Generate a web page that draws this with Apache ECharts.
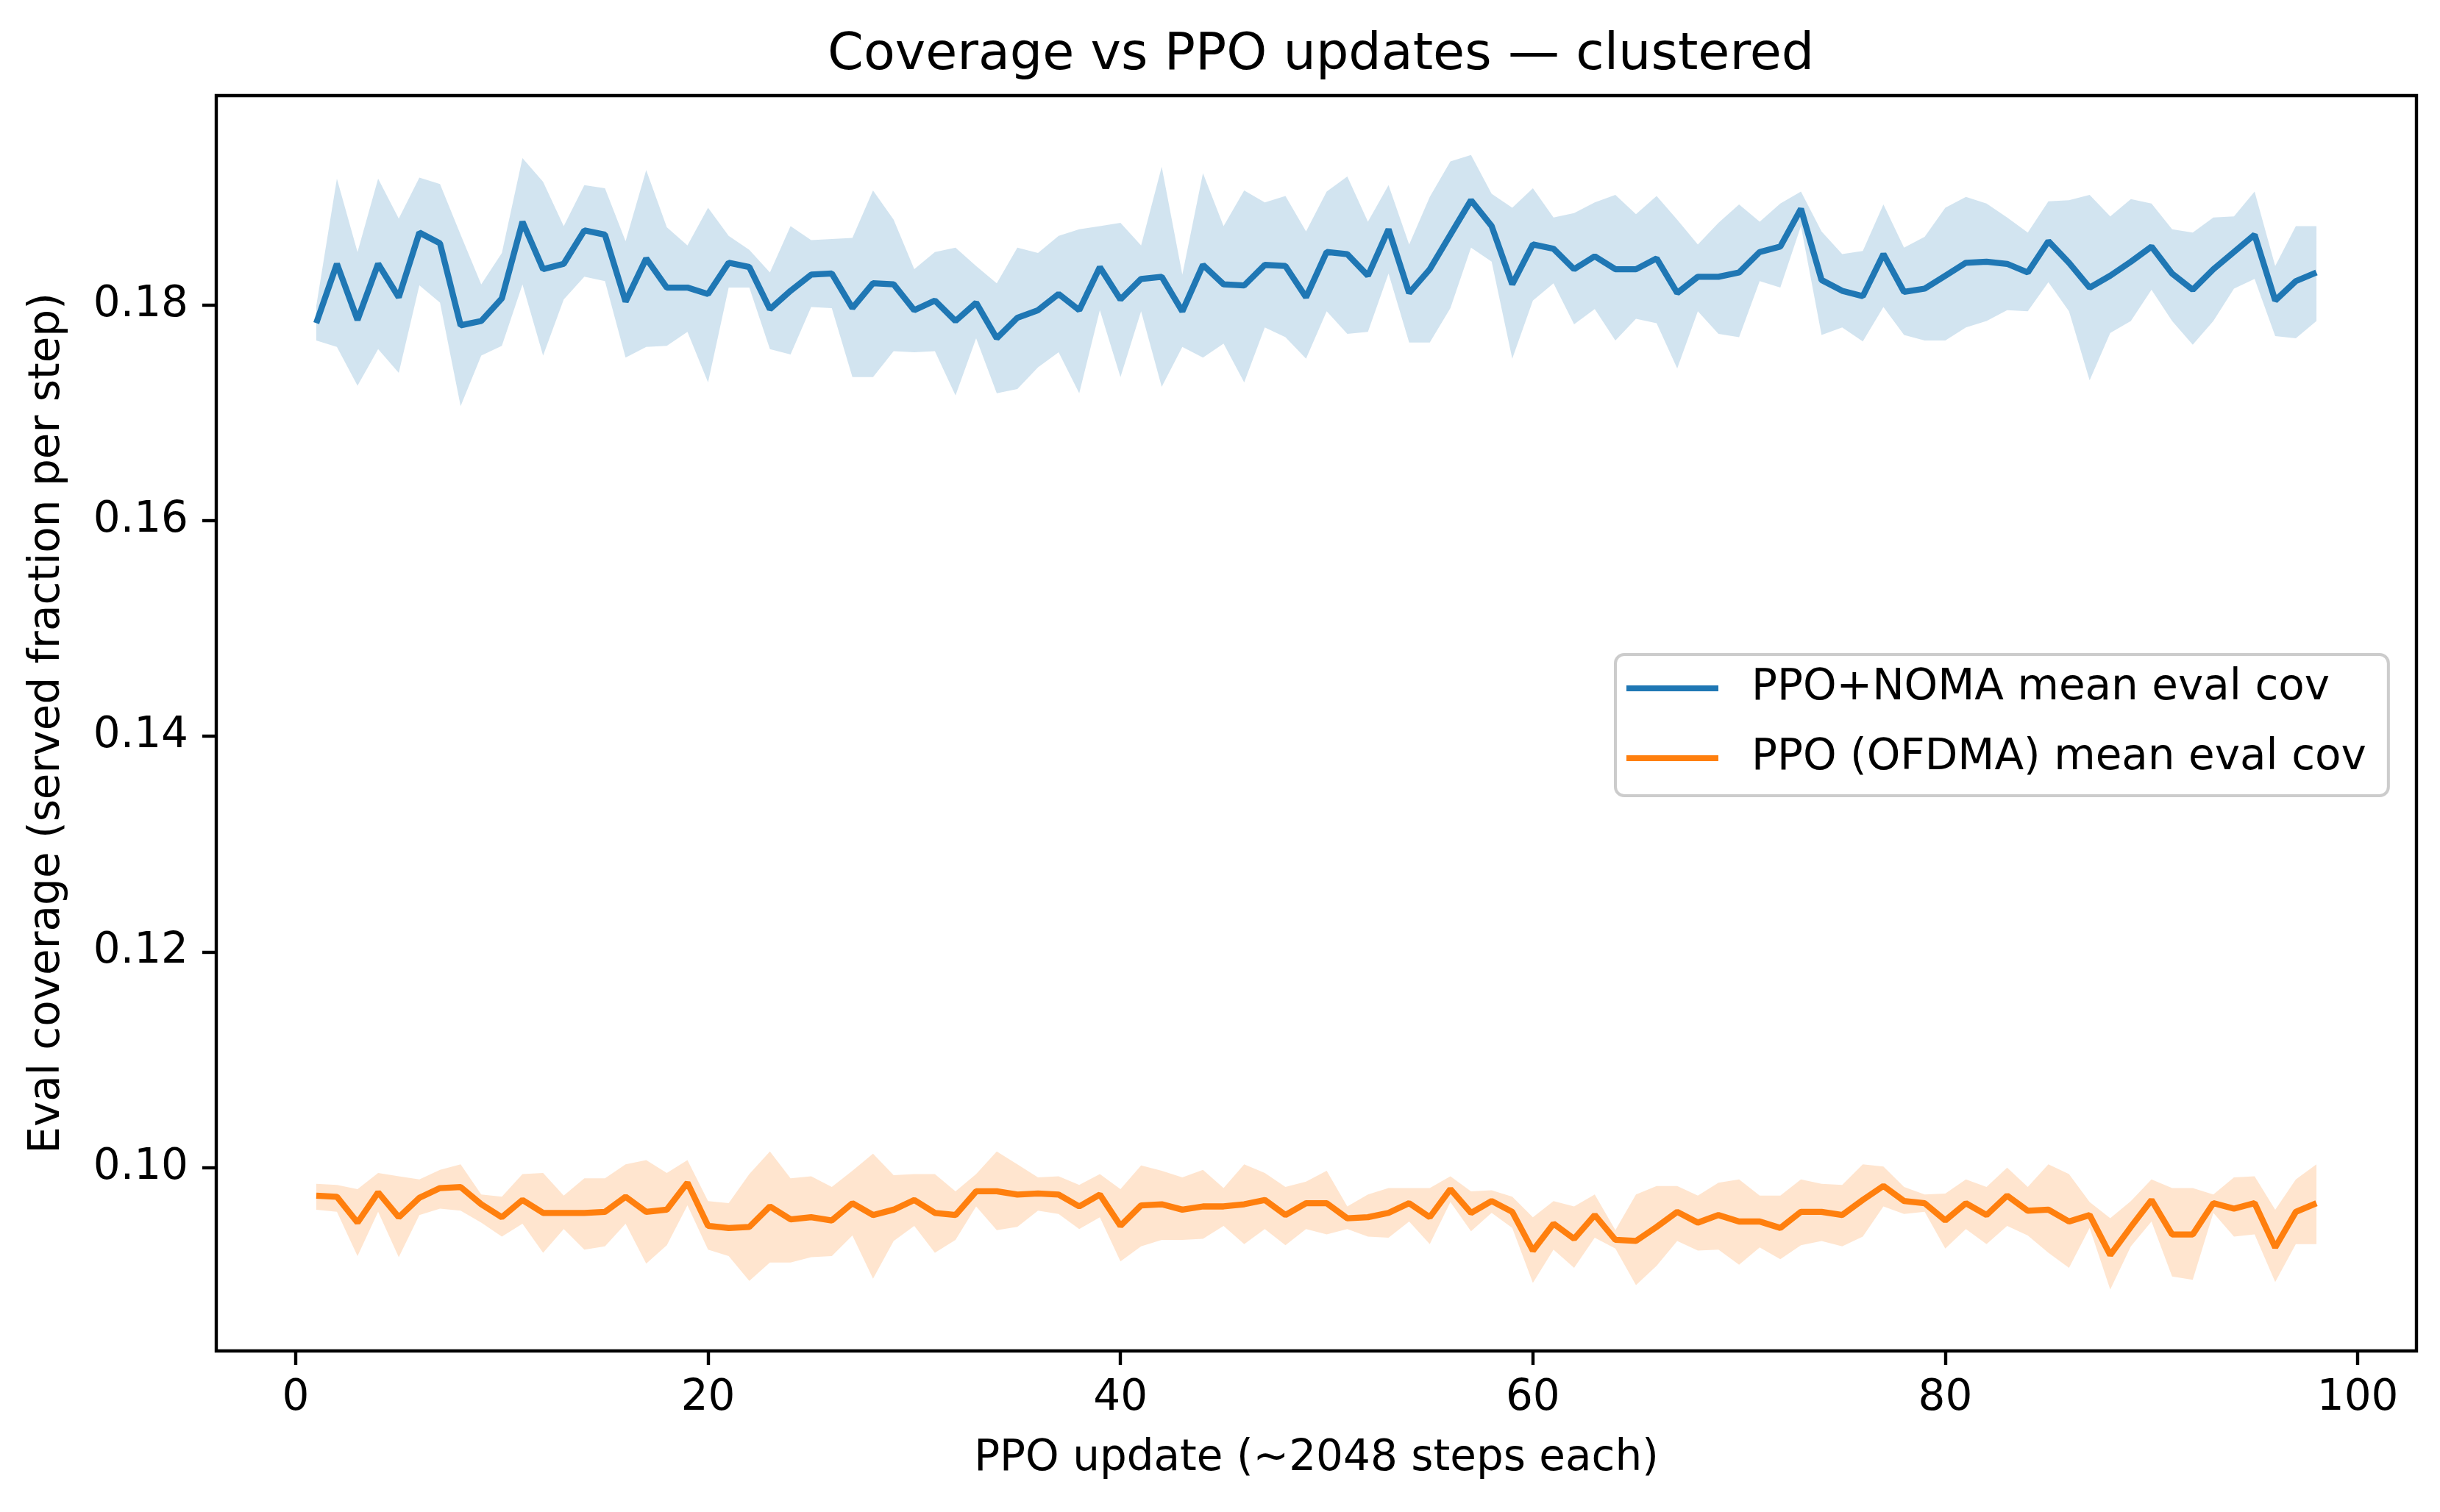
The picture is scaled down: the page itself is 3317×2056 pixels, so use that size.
<!DOCTYPE html>
<html>
<head>
<meta charset="utf-8">
<script src="https://cdn.jsdelivr.net/npm/echarts@6.0.0/dist/echarts.min.js"></script>
<style>
  html, body { margin: 0; padding: 0; background: #ffffff; }
  #chart { width: 3317px; height: 2056px; }
</style>
</head>
<body>
<div id="chart"></div>
<script>
// ---- Data ----
const chartTitle = 'Coverage vs PPO updates — clustered';
const xAxisTitle = 'PPO update (~2048 steps each)';
const yAxisTitle = 'Eval coverage (served fraction per step)';
const nomaName = 'PPO+NOMA mean eval cov';
const ofdmaName = 'PPO (OFDMA) mean eval cov';

const xTicks = [0, 20, 40, 60, 80, 100];
const yTicks = [0.10, 0.12, 0.14, 0.16, 0.18];

const nomaMean = [
  0.1783, 0.1838, 0.1786, 0.1838, 0.1807, 0.1867, 0.1857, 0.1781, 0.1785, 0.1806,
  0.1877, 0.1833, 0.1838, 0.1869, 0.1865, 0.1803, 0.1843, 0.1816, 0.1816, 0.1810,
  0.1839, 0.1835, 0.1796, 0.1813, 0.1828, 0.1829, 0.1797, 0.1820, 0.1819, 0.1795,
  0.1804, 0.1785, 0.1802, 0.1769, 0.1788, 0.1795, 0.1810, 0.1795, 0.1835, 0.1805,
  0.1824, 0.1826, 0.1794, 0.1837, 0.1819, 0.1818, 0.1837, 0.1836, 0.1807, 0.1849,
  0.1847, 0.1827, 0.1870, 0.1811, 0.1833, 0.1865, 0.1897, 0.1873, 0.1819, 0.1856,
  0.1852, 0.1833, 0.1845, 0.1833, 0.1833, 0.1843, 0.1811, 0.1826, 0.1826, 0.1830,
  0.1849, 0.1854, 0.1889, 0.1823, 0.1813, 0.1808, 0.1847, 0.1812, 0.1815, 0.1827,
  0.1839, 0.1840, 0.1838, 0.1830, 0.1859, 0.1839, 0.1816, 0.1827, 0.1840, 0.1854,
  0.1829, 0.1814, 0.1833, 0.1849, 0.1865, 0.1804, 0.1822, 0.1830
];
const nomaUpper = [
  0.1799, 0.1917, 0.1849, 0.1917, 0.1880, 0.1918, 0.1912, 0.1865, 0.1819, 0.1848,
  0.1936, 0.1914, 0.1873, 0.1911, 0.1908, 0.1859, 0.1925, 0.1872, 0.1855, 0.1890,
  0.1864, 0.1851, 0.1830, 0.1873, 0.1860, 0.1861, 0.1862, 0.1906, 0.1879, 0.1833,
  0.1849, 0.1853, 0.1836, 0.1820, 0.1853, 0.1848, 0.1864, 0.1870, 0.1873, 0.1876,
  0.1855, 0.1928, 0.1828, 0.1922, 0.1873, 0.1906, 0.1895, 0.1901, 0.1868, 0.1905,
  0.1919, 0.1877, 0.1911, 0.1856, 0.1900, 0.1933, 0.1939, 0.1903, 0.1890, 0.1908,
  0.1881, 0.1885, 0.1895, 0.1902, 0.1884, 0.1901, 0.1879, 0.1856, 0.1876, 0.1893,
  0.1877, 0.1894, 0.1905, 0.1868, 0.1847, 0.1850, 0.1893, 0.1853, 0.1863, 0.1890,
  0.1900, 0.1894, 0.1881, 0.1867, 0.1896, 0.1897, 0.1902, 0.1882, 0.1898, 0.1894,
  0.1870, 0.1867, 0.1881, 0.1882, 0.1905, 0.1836, 0.1873, 0.1873
];
const nomaLower = [
  0.1767, 0.1761, 0.1725, 0.1759, 0.1737, 0.1818, 0.1802, 0.1706, 0.1753, 0.1762,
  0.1819, 0.1753, 0.1805, 0.1826, 0.1822, 0.1751, 0.1761, 0.1762, 0.1775, 0.1728,
  0.1816, 0.1816, 0.1759, 0.1754, 0.1798, 0.1797, 0.1733, 0.1733, 0.1757, 0.1756,
  0.1757, 0.1716, 0.1769, 0.1718, 0.1722, 0.1742, 0.1756, 0.1718, 0.1795, 0.1733,
  0.1794, 0.1724, 0.1761, 0.1751, 0.1764, 0.1728, 0.1779, 0.1770, 0.1750, 0.1794,
  0.1773, 0.1775, 0.1829, 0.1765, 0.1765, 0.1797, 0.1853, 0.1840, 0.1750, 0.1804,
  0.1820, 0.1782, 0.1796, 0.1767, 0.1787, 0.1783, 0.1741, 0.1794, 0.1773, 0.1770,
  0.1822, 0.1816, 0.1873, 0.1772, 0.1779, 0.1766, 0.1798, 0.1772, 0.1767, 0.1767,
  0.1779, 0.1785, 0.1795, 0.1794, 0.1821, 0.1794, 0.1730, 0.1774, 0.1785, 0.1814,
  0.1785, 0.1763, 0.1785, 0.1815, 0.1824, 0.1771, 0.1769, 0.1785
];

const ofdmaMean = [
  0.0974, 0.0973, 0.0949, 0.0977, 0.0954, 0.0972, 0.0981, 0.0982, 0.0966, 0.0954,
  0.0970, 0.0958, 0.0958, 0.0958, 0.0959, 0.0973, 0.0959, 0.0961, 0.0986, 0.0946,
  0.0944, 0.0945, 0.0964, 0.0952, 0.0954, 0.0951, 0.0967, 0.0956, 0.0961, 0.0970,
  0.0958, 0.0956, 0.0978, 0.0978, 0.0975, 0.0976, 0.0975, 0.0964, 0.0975, 0.0946,
  0.0965, 0.0966, 0.0961, 0.0964, 0.0964, 0.0966, 0.0970, 0.0956, 0.0967, 0.0967,
  0.0953, 0.0954, 0.0958, 0.0967, 0.0954, 0.0980, 0.0958, 0.0969, 0.0959, 0.0923,
  0.0948, 0.0934, 0.0956, 0.0933, 0.0932, 0.0945, 0.0959, 0.0949, 0.0956, 0.0950,
  0.0950, 0.0944, 0.0959, 0.0959, 0.0956, 0.0970, 0.0983, 0.0969, 0.0967, 0.0951,
  0.0967, 0.0956, 0.0974, 0.0960, 0.0961, 0.0950, 0.0956, 0.0919, 0.0945, 0.0970,
  0.0938, 0.0938, 0.0967, 0.0962, 0.0967, 0.0926, 0.0959, 0.0967
];
const ofdmaUpper = [
  0.0985, 0.0984, 0.0980, 0.0995, 0.0992, 0.0989, 0.0998, 0.1003, 0.0975, 0.0973,
  0.0994, 0.0995, 0.0974, 0.0990, 0.0990, 0.1003, 0.1007, 0.0995, 0.1007, 0.0969,
  0.0967, 0.0994, 0.1015, 0.0990, 0.0992, 0.0982, 0.0997, 0.1013, 0.0993, 0.0994,
  0.0994, 0.0978, 0.0994, 0.1015, 0.1003, 0.0991, 0.0992, 0.0984, 0.0994, 0.0980,
  0.1002, 0.0997, 0.0991, 0.0998, 0.0981, 0.1003, 0.0995, 0.0982, 0.0987, 0.0997,
  0.0964, 0.0975, 0.0981, 0.0981, 0.0981, 0.0992, 0.0978, 0.0979, 0.0973, 0.0954,
  0.0969, 0.0964, 0.0975, 0.0942, 0.0975, 0.0983, 0.0983, 0.0974, 0.0986, 0.0989,
  0.0974, 0.0974, 0.0989, 0.0985, 0.0984, 0.1003, 0.1001, 0.0982, 0.0975, 0.0976,
  0.0989, 0.0982, 0.1000, 0.0982, 0.1003, 0.0994, 0.0968, 0.0953, 0.0969, 0.0989,
  0.0981, 0.0981, 0.0975, 0.0991, 0.0992, 0.0961, 0.0989, 0.1003
];
const ofdmaLower = [
  0.0961, 0.0959, 0.0918, 0.0959, 0.0917, 0.0956, 0.0962, 0.0960, 0.0949, 0.0936,
  0.0948, 0.0921, 0.0943, 0.0924, 0.0927, 0.0948, 0.0911, 0.0928, 0.0965, 0.0924,
  0.0918, 0.0895, 0.0912, 0.0912, 0.0917, 0.0918, 0.0937, 0.0897, 0.0932, 0.0946,
  0.0921, 0.0933, 0.0964, 0.0942, 0.0945, 0.0960, 0.0957, 0.0943, 0.0954, 0.0913,
  0.0927, 0.0933, 0.0933, 0.0934, 0.0946, 0.0929, 0.0943, 0.0928, 0.0943, 0.0938,
  0.0943, 0.0936, 0.0935, 0.0950, 0.0929, 0.0968, 0.0941, 0.0958, 0.0944, 0.0893,
  0.0924, 0.0907, 0.0935, 0.0925, 0.0891, 0.0909, 0.0932, 0.0923, 0.0924, 0.0910,
  0.0926, 0.0915, 0.0928, 0.0932, 0.0927, 0.0936, 0.0964, 0.0957, 0.0959, 0.0925,
  0.0943, 0.0929, 0.0946, 0.0937, 0.0921, 0.0907, 0.0944, 0.0887, 0.0927, 0.0950,
  0.0899, 0.0896, 0.0958, 0.0936, 0.0938, 0.0894, 0.0929, 0.0929
];

// PPO update index for each point (1..98)
const updates = nomaMean.map((_, i) => i + 1);

// ---- Build options ----
const FONT = 'DejaVu Sans';
const BLUE = '#1f77b4';
const ORANGE = '#ff7f0e';
const BASE = 58;

const pairs = (arr) => arr.map((v, i) => [updates[i], v]);

// Shaded band (lower..upper) drawn as one polygon through the axis scales
function bandSeries(lo, hi, fill) {
  return {
    type: 'custom',
    silent: true,
    clip: true,
    z: 1,
    data: [[updates[0], lo[0]]],
    encode: { x: 0, y: 1 },
    renderItem: function (params, api) {
      const pts = [];
      for (let i = 0; i < updates.length; i++) pts.push(api.coord([updates[i], hi[i]]));
      for (let i = updates.length - 1; i >= 0; i--) pts.push(api.coord([updates[i], lo[i]]));
      return { type: 'polygon', shape: { points: pts }, style: { fill: fill, stroke: null } };
    }
  };
}

const axisCommon = {
  axisLine: { show: false, onZero: false },
  splitLine: { show: false }
};

const option = {
  backgroundColor: '#ffffff',
  animation: false,
  textStyle: { fontFamily: FONT, color: '#000' },
  title: {
    text: chartTitle,
    left: 1120,
    top: 36,
    textStyle: { fontFamily: FONT, fontSize: 70, fontWeight: 'normal', color: '#000' }
  },
  legend: {
    orient: 'vertical',
    left: 2196,
    top: 890,
    data: [
      { name: nomaName, icon: 'rect' },
      { name: ofdmaName, icon: 'rect' }
    ],
    itemWidth: 125,
    itemHeight: 8,
    itemGap: 29,
    padding: [13, 30, 18, 15],
    backgroundColor: 'rgba(255,255,255,0.8)',
    borderColor: '#cccccc',
    borderWidth: 4,
    borderRadius: 12,
    textStyle: { fontFamily: FONT, fontSize: BASE, color: '#000', lineHeight: 66, padding: [0, 0, 0, 40] }
  },
  grid: {
    left: 294, right: 32, top: 130, bottom: 219,
    show: true, borderColor: '#000', borderWidth: 4.4, backgroundColor: 'transparent'
  },
  xAxis: Object.assign({}, axisCommon, {
    type: 'value',
    min: -3.85,
    max: 102.85,
    name: xAxisTitle,
    nameLocation: 'middle',
    nameGap: 118,
    nameTextStyle: { fontFamily: FONT, fontSize: BASE, color: '#000' },
    axisTick: { show: true, inside: false, length: 19, lineStyle: { color: '#000', width: 4.4 }, customValues: xTicks },
    axisLabel: { show: true, margin: 36, fontFamily: FONT, fontSize: BASE, color: '#000', customValues: xTicks,
      formatter: (v) => String(v) }
  }),
  yAxis: Object.assign({}, axisCommon, {
    type: 'value',
    min: 0.0830,
    max: 0.1994,
    name: yAxisTitle,
    nameLocation: 'middle',
    nameGap: 200,
    nameRotate: 90,
    nameTextStyle: { fontFamily: FONT, fontSize: BASE, color: '#000' },
    axisTick: { show: true, inside: false, length: 19, lineStyle: { color: '#000', width: 4.4 }, customValues: yTicks },
    axisLabel: { show: true, margin: 38, fontFamily: FONT, fontSize: BASE, color: '#000', customValues: yTicks,
      formatter: (v) => Number(v).toFixed(2) }
  }),
  series: [
    bandSeries(nomaLower, nomaUpper, 'rgba(31,119,180,0.2)'),
    {
      name: nomaName, type: 'line', data: pairs(nomaMean), symbol: 'none', showSymbol: false,
      color: BLUE, lineStyle: { color: BLUE, width: 8.3 }, z: 3
    },
    bandSeries(ofdmaLower, ofdmaUpper, 'rgba(255,127,14,0.2)'),
    {
      name: ofdmaName, type: 'line', data: pairs(ofdmaMean), symbol: 'none', showSymbol: false,
      color: ORANGE, lineStyle: { color: ORANGE, width: 8.3 }, z: 3
    }
  ]
};

const chart = echarts.init(document.getElementById('chart'), null, { renderer: 'canvas' });
chart.setOption(option);
</script>
</body>
</html>
